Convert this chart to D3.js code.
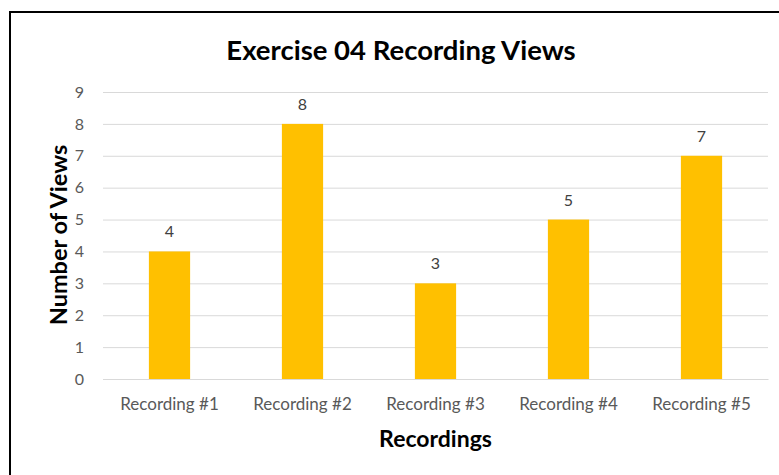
<!DOCTYPE html>
<html>
<head>
<meta charset="utf-8">
<script src="https://cdn.jsdelivr.net/npm/d3@7"></script>
<style>
  body { margin: 0; background: #fff; }
  text { font-family: Lato, "Open Sans", sans-serif; }
</style>
</head>
<body>
<svg id="chart" width="779" height="475"></svg>
<script>
const categories = ["Recording #1", "Recording #2", "Recording #3", "Recording #4", "Recording #5"];
const views = [4, 8, 3, 5, 7];
const yTicks = [0, 1, 2, 3, 4, 5, 6, 7, 8, 9];

let svg = d3.select("#chart"),
    margin = {top: 92, right: 11, bottom: 96, left: 103},
    width = svg.attr("width") - margin.left - margin.right,
    height = svg.attr("height") - margin.top - margin.bottom;

// outer chart border (right and bottom sides fall outside the picture)
svg.append("rect")
    .attr("x", 10).attr("y", 12)
    .attr("width", 800).attr("height", 500)
    .attr("fill", "none")
    .attr("stroke", "#000")
    .attr("stroke-width", 2);

let g = svg.append("g").attr("transform", "translate(" + margin.left + "," + margin.top + ")");

let x = d3.scaleBand().domain(categories).range([0, width]).paddingInner(0.69).paddingOuter(0.345),
    y = d3.scaleLinear().domain([0, 9]).range([height, 0]);

// gridlines
g.append("g")
    .attr("class", "grid")
    .call(d3.axisLeft(y).tickValues(yTicks).tickSize(-width).tickFormat(""))
    .call(a => a.select(".domain").remove())
    .selectAll("line")
    .attr("stroke", "#d9d9d9")
    .attr("stroke-width", 1);

// y tick labels
g.append("g")
    .attr("class", "axis axis--y")
    .call(d3.axisLeft(y).tickValues(yTicks).tickSize(0).tickPadding(19))
    .call(a => a.select(".domain").remove())
    .selectAll("text")
    .attr("fill", "#595959")
    .style("font-size", "16px");

// x axis
g.append("g")
    .attr("class", "axis axis--x")
    .attr("transform", "translate(0," + height + ")")
    .call(d3.axisBottom(x).tickSize(0).tickPadding(19))
    .call(a => a.select(".domain").attr("stroke", "#d9d9d9"))
    .selectAll("text")
    .attr("fill", "#595959")
    .style("font-size", "17px");

// bars
g.selectAll(".bar")
    .data(views)
    .enter().append("rect")
    .attr("class", "bar")
    .attr("x", (d, i) => x(categories[i]))
    .attr("y", d => y(d))
    .attr("width", x.bandwidth())
    .attr("height", d => height - y(d))
    .attr("fill", "#ffc000");

// value labels
g.selectAll(".label")
    .data(views)
    .enter().append("text")
    .attr("class", "label")
    .attr("x", (d, i) => x(categories[i]) + x.bandwidth() / 2)
    .attr("y", d => y(d) - 14)
    .attr("text-anchor", "middle")
    .attr("fill", "#404040")
    .style("font-size", "16px")
    .text(d => d);

// title
svg.append("text")
    .attr("x", 401)
    .attr("y", 60)
    .attr("text-anchor", "middle")
    .attr("fill", "#000")
    .style("font-size", "27.5px")
    .style("font-weight", "bold")
    .text("Exercise 04 Recording Views");

// axis titles
svg.append("text")
    .attr("x", margin.left + width / 2)
    .attr("y", 447)
    .attr("text-anchor", "middle")
    .attr("fill", "#000")
    .style("font-size", "23px")
    .style("font-weight", "bold")
    .text("Recordings");

svg.append("text")
    .attr("transform", "translate(67,235) rotate(-90)")
    .attr("text-anchor", "middle")
    .attr("fill", "#000")
    .style("font-size", "23.5px")
    .style("font-weight", "bold")
    .text("Number of Views");
</script>
</body>
</html>
